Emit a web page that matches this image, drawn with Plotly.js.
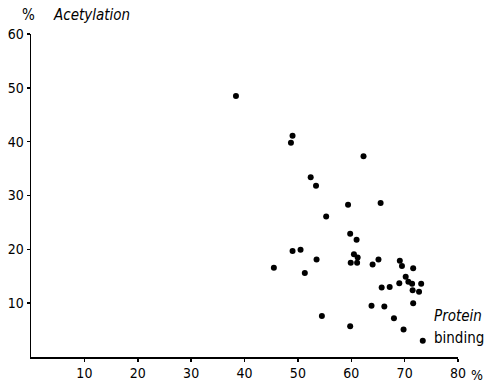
<!DOCTYPE html>
<html>
<head>
<meta charset="utf-8">
<script src="https://cdn.plot.ly/plotly-3.0.1.min.js"></script>
<style>html,body{margin:0;padding:0;background:#fff;}#chart{width:485px;height:384px;}</style>
</head>
<body>
<div id="chart"></div>
<script>
// Protein binding (%) vs Acetylation (%)
const proteinBinding = [38.4, 49.0, 48.7, 62.3, 52.4, 53.4, 59.4, 65.5, 55.3, 59.8, 61.0,
  49.0, 50.5, 53.5, 60.5, 61.2, 59.9, 61.1, 45.5, 51.3, 64.0, 65.1, 69.1, 69.5, 71.6,
  70.2, 70.7, 71.4, 73.1, 69.0, 65.7, 67.2, 71.5, 72.7, 71.6, 63.8, 66.2, 54.5, 59.8,
  68.0, 69.8, 73.4];
const acetylation = [48.5, 41.1, 39.8, 37.3, 33.4, 31.8, 28.3, 28.6, 26.1, 22.9, 21.8,
  19.7, 19.9, 18.1, 19.1, 18.5, 17.5, 17.5, 16.6, 15.6, 17.2, 18.1, 17.9, 16.9, 16.5,
  14.9, 14.0, 13.6, 13.6, 13.7, 12.9, 13.0, 12.4, 12.1, 10.0, 9.5, 9.4, 7.6, 5.7,
  7.2, 5.1, 3.0];
const xTicks = [10, 20, 30, 40, 50, 60, 70, 80];
const yTicks = [10, 20, 30, 40, 50, 60];

const tickFont = {family: "Liberation Sans Narrow, DejaVu Sans Condensed, sans-serif", size: 14, color: "#000"};
const labelFont = {family: "DejaVu Sans Condensed, Liberation Sans Narrow, sans-serif", size: 15, color: "#000"};

const trace = {
  x: proteinBinding, y: acetylation, type: "scatter", mode: "markers",
  marker: {color: "#000", size: 6}, hoverinfo: "skip"
};

const layout = {
  width: 485, height: 384,
  margin: {l: 31, r: 27, t: 34, b: 27},
  paper_bgcolor: "#fff", plot_bgcolor: "#fff",
  showlegend: false,
  xaxis: {
    range: [0, 80], tickvals: xTicks, ticktext: xTicks.map(String),
    showgrid: false, zeroline: false, showline: true, linecolor: "#000", linewidth: 1.5,
    ticks: "outside", ticklen: 3, tickwidth: 1.5, tickcolor: "#000", tickfont: tickFont
  },
  yaxis: {
    range: [0, 60], tickvals: yTicks, ticktext: yTicks.map(String),
    showgrid: false, zeroline: false, showline: true, linecolor: "#000", linewidth: 1.5,
    ticks: "outside", ticklen: 3, tickwidth: 1.5, tickcolor: "#000", tickfont: tickFont
  },
  annotations: [
    {text: "%", xref: "paper", yref: "paper", x: -0.005, y: 1.06, xanchor: "center", yanchor: "middle", showarrow: false, font: labelFont},
    {text: "<i>Acetylation</i>", xref: "paper", yref: "paper", x: 0.047, y: 1.06, xanchor: "left", yanchor: "middle", showarrow: false, font: labelFont},
    {text: "%", xref: "paper", yref: "paper", x: 1.045, y: -0.055, xanchor: "center", yanchor: "middle", showarrow: false, font: tickFont},
    {text: "<i>Protein</i>", xref: "paper", yref: "paper", x: 0.94, y: 0.127, xanchor: "left", yanchor: "middle", showarrow: false, font: labelFont},
    {text: "binding", xref: "paper", yref: "paper", x: 0.94, y: 0.059, xanchor: "left", yanchor: "middle", showarrow: false, font: labelFont}
  ]
};

Plotly.newPlot("chart", [trace], layout, {displayModeBar: false, staticPlot: true});
</script>
</body>
</html>
